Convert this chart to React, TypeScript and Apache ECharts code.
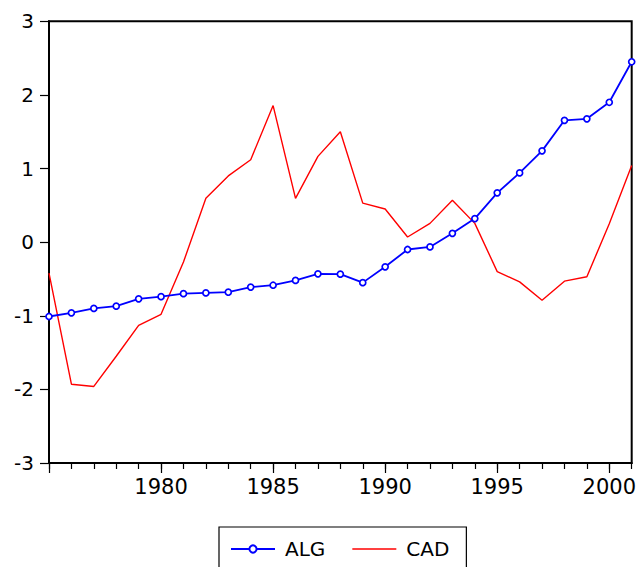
import React, { useEffect, useRef } from "react";
import * as echarts from "echarts";

// Annual observations
const years = [
  1975, 1976, 1977, 1978, 1979, 1980, 1981, 1982, 1983, 1984, 1985, 1986, 1987, 1988,
  1989, 1990, 1991, 1992, 1993, 1994, 1995, 1996, 1997, 1998, 1999, 2000, 2001,
];

const algValues = [
  -1.01, -0.96, -0.9, -0.87, -0.77, -0.74, -0.7, -0.69, -0.68, -0.61, -0.585, -0.52, -0.43,
  -0.435, -0.55, -0.335, -0.1, -0.065, 0.12, 0.32, 0.67, 0.94, 1.24, 1.655, 1.675, 1.9, 2.45,
];

const cadValues = [
  -0.42, -1.93, -1.96, -1.55, -1.13, -0.98, -0.27, 0.595, 0.9, 1.12, 1.855, 0.595, 1.165,
  1.5, 0.53, 0.45, 0.07, 0.255, 0.57, 0.255, -0.4, -0.54, -0.79, -0.53, -0.47, 0.25, 1.04,
];

const majorTickYears = [1975, 1980, 1985, 1990, 1995, 2000];
const labeledYears = [1980, 1985, 1990, 1995, 2000];

const FONT = "DejaVu Sans";
// plain horizontal stroke used as the CAD legend key
const LINE_KEY = "path://M0,0H44V1.4H0Z";

export default function App() {
  const ref = useRef<HTMLDivElement>(null);

  useEffect(() => {
    document.body.style.margin = "0";
    if (!ref.current) return;
    const chart = echarts.init(ref.current, null, { renderer: "svg" });

    const pairs = (vals: number[]) => years.map((y, i) => [y, vals[i]]);

    chart.setOption({
      animation: false,
      backgroundColor: "#ffffff",
      textStyle: { fontFamily: FONT },
      grid: {
        left: 49,
        right: 1.5,
        top: 21.3,
        bottom: 104,
        show: true,
        borderColor: "#000000",
        borderWidth: 2,
        backgroundColor: "transparent",
      },
      xAxis: [
        {
          type: "value",
          min: 1975,
          max: 2001,
          interval: 1,
          position: "bottom",
          axisLine: { show: true, onZero: false, lineStyle: { color: "#000", width: 2 } },
          axisTick: { show: true, length: 6, lineStyle: { color: "#000", width: 1.2 } },
          splitLine: { show: false },
          axisLabel: {
            color: "#000",
            fontFamily: FONT,
            fontSize: 21,
            margin: 13,
            formatter: (v: number) => (labeledYears.includes(v) ? String(v) : ""),
          },
        },
        {
          type: "value",
          min: 1975,
          max: 2001,
          interval: 5,
          position: "bottom",
          axisLine: { show: false, onZero: false },
          axisTick: {
            show: true,
            length: 10,
            customValues: majorTickYears,
            lineStyle: { color: "#000", width: 1.2 },
          },
          splitLine: { show: false },
          axisLabel: { show: false },
        },
      ],
      yAxis: {
        type: "value",
        min: -3,
        max: 3,
        interval: 1,
        axisLine: { show: true, onZero: false, lineStyle: { color: "#000", width: 2 } },
        axisTick: { show: true, length: 9, lineStyle: { color: "#000", width: 1.2 } },
        splitLine: { show: false },
        axisLabel: { color: "#000", fontFamily: FONT, fontSize: 20, margin: 15 },
      },
      legend: {
        left: 219,
        top: 527,
        orient: "horizontal",
        itemWidth: 44,
        itemHeight: 9,
        itemGap: 27,
        padding: [12, 17, 14, 11],
        borderColor: "#000",
        borderWidth: 1.2,
        backgroundColor: "#fff",
        textStyle: { color: "#000", fontFamily: FONT, fontSize: 20, padding: [0, 0, 0, 5] },
        data: [
          { name: "ALG" },
          { name: "CAD", icon: LINE_KEY, itemStyle: { color: "#ff0000" } },
        ],
      },
      series: [
        {
          name: "CAD",
          type: "line",
          data: pairs(cadValues),
          symbol: "none",
          showSymbol: false,
          lineStyle: { color: "#ff0000", width: 1.4 },
          itemStyle: { color: "#ff0000" },
          z: 2,
        },
        {
          name: "ALG",
          type: "line",
          data: pairs(algValues),
          symbol: "circle",
          symbolSize: 6,
          showSymbol: true,
          lineStyle: { color: "#0000ff", width: 1.8 },
          itemStyle: { color: "#ffffff", borderColor: "#0000ff", borderWidth: 1.7 },
          z: 3,
        },
      ],
    });

    return () => chart.dispose();
  }, []);

  return <div ref={ref} style={{ width: 639, height: 567 }} />;
}
